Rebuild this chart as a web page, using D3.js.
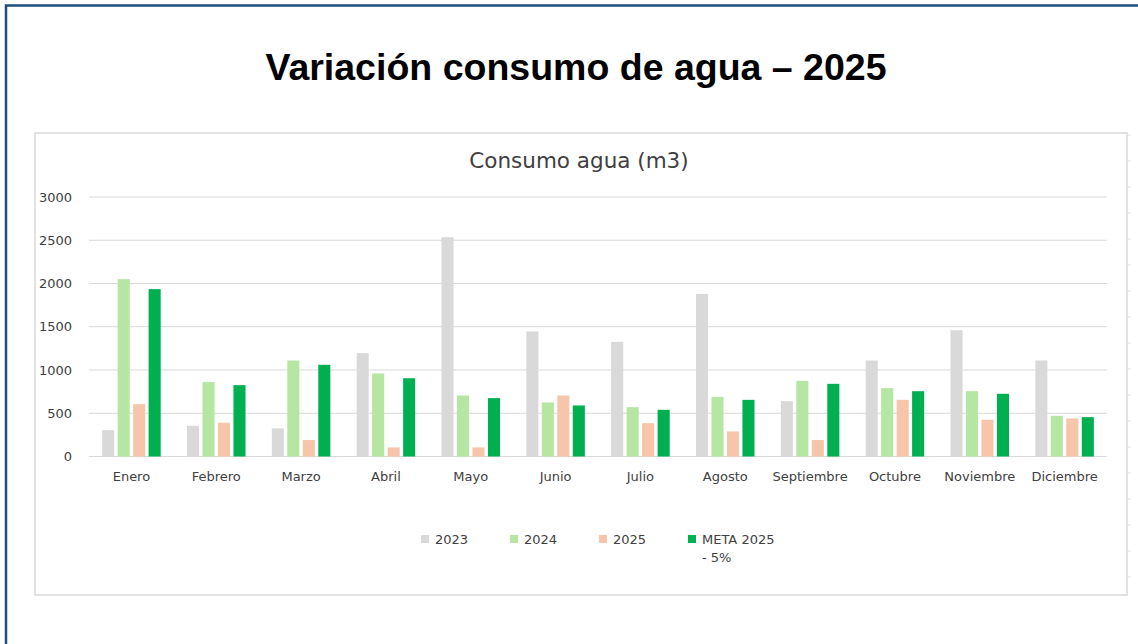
<!DOCTYPE html>
<html>
<head>
<meta charset="utf-8">
<script src="https://cdn.jsdelivr.net/npm/d3@7"></script>
<style>
  body { margin: 0; background: #fff; }
  svg { display: block; }
</style>
</head>
<body>
<div class="canvas"></div>
<script>
// data
const months = ['Enero', 'Febrero', 'Marzo', 'Abril', 'Mayo', 'Junio', 'Julio', 'Agosto', 'Septiembre', 'Octubre', 'Noviembre', 'Diciembre']
const series = ['2023', '2024', '2025', 'META 2025 - 5%']
const v2023 = [305, 355, 325, 1195, 2535, 1445, 1325, 1880, 640, 1110, 1460, 1110]
const v2024 = [2050, 860, 1110, 960, 705, 625, 570, 690, 875, 790, 755, 470]
const v2025 = [605, 390, 190, 105, 105, 705, 385, 290, 190, 655, 425, 440]
const vMeta = [1935, 825, 1060, 905, 675, 590, 540, 655, 840, 755, 725, 455]
const yTicks = [0, 500, 1000, 1500, 2000, 2500, 3000]
const colors = ['#d9d9d9', '#b5e6a2', '#f6c5aa', '#00b050']

const values = [v2023, v2024, v2025, vMeta]
const rows = months.map((m, i) => ({ month: m, vals: values.map(v => v[i]) }))

const W = 1138, H = 644
const box = { x: 35, y: 133, w: 1092, h: 462 }
const plot = { left: 89, right: 1107, top: 197, bottom: 456.5 }
const labelFont = 'DejaVu Sans, sans-serif'

const svg = d3.select('.canvas')
    .append('svg')
    .attr('width', W)
    .attr('height', H)

// outer frame (only top and left edges show)
svg.append('path')
    .attr('d', `M6,${H} V5.5 H${W}`)
    .attr('fill', 'none')
    .attr('stroke', '#1f4e7f')
    .attr('stroke-width', 2.5)

svg.append('text')
    .attr('x', 576)
    .attr('y', 80)
    .attr('text-anchor', 'middle')
    .attr('font-family', 'Liberation Sans, Arial, sans-serif')
    .attr('font-weight', 'bold')
    .attr('font-size', 37.5)
    .attr('fill', '#000')
    .text('Variación consumo de agua – 2025')

// chart box
svg.append('rect')
    .attr('x', box.x)
    .attr('y', box.y)
    .attr('width', box.w)
    .attr('height', box.h)
    .attr('fill', '#fff')
    .attr('stroke', '#d9d9d9')
    .attr('stroke-width', 1.5)

// little ticks on the right of the box
svg.append('g')
    .selectAll('line')
    .data(d3.range(box.y + 2, box.y + box.h - 10, 26))
    .join('line')
    .attr('x1', box.x + box.w)
    .attr('x2', box.x + box.w + 4)
    .attr('y1', d => d)
    .attr('y2', d => d)
    .attr('stroke', '#e3e3e3')
    .attr('stroke-width', 1)

svg.append('text')
    .attr('x', 579)
    .attr('y', 168)
    .attr('text-anchor', 'middle')
    .attr('font-family', labelFont)
    .attr('font-size', 21.5)
    .attr('fill', '#404040')
    .text('Consumo agua (m3)')

// scales
const x0 = d3.scaleBand()
    .domain(months)
    .range([plot.left, plot.right])
    .paddingInner(0.31)
    .paddingOuter(0.155)

const x1 = d3.scaleBand()
    .domain(series)
    .range([0, x0.bandwidth()])
    .paddingInner(0.22)

const y = d3.scaleLinear()
    .domain([0, 3000])
    .range([plot.bottom, plot.top])

// gridlines
svg.append('g')
    .selectAll('line')
    .data(yTicks)
    .join('line')
    .attr('x1', plot.left)
    .attr('x2', plot.right)
    .attr('y1', d => y(d))
    .attr('y2', d => y(d))
    .attr('stroke', '#d9d9d9')
    .attr('stroke-width', 1.2)

// y labels
svg.append('g')
    .selectAll('text')
    .data(yTicks)
    .join('text')
    .attr('x', 72)
    .attr('y', d => y(d) + 4.5)
    .attr('text-anchor', 'end')
    .attr('font-family', labelFont)
    .attr('font-size', 13)
    .attr('fill', '#404040')
    .text(d => d)

// bars
const groups = svg.append('g')
    .selectAll('g')
    .data(rows)
    .join('g')
    .attr('transform', d => `translate(${x0(d.month)},0)`)

groups.selectAll('rect')
    .data(d => d.vals.map((v, i) => ({ key: series[i], v, i })))
    .join('rect')
    .attr('x', d => x1(d.key))
    .attr('y', d => y(d.v))
    .attr('width', x1.bandwidth())
    .attr('height', d => y(0) - y(d.v))
    .attr('fill', d => colors[d.i])

// x labels
svg.append('g')
    .selectAll('text')
    .data(months)
    .join('text')
    .attr('x', d => x0(d) + x0.bandwidth() / 2)
    .attr('y', 481)
    .attr('text-anchor', 'middle')
    .attr('font-family', labelFont)
    .attr('font-size', 13)
    .attr('fill', '#404040')
    .text(d => d)

// legend
const legend = svg.append('g')
    .selectAll('g')
    .data(series)
    .join('g')
    .attr('transform', (d, i) => `translate(${421 + i * 89},539)`)

legend.append('rect')
    .attr('x', 0)
    .attr('y', -4)
    .attr('width', 8)
    .attr('height', 8)
    .attr('fill', (d, i) => colors[i])

legend.append('text')
    .attr('x', 14)
    .attr('y', 4.5)
    .attr('font-family', labelFont)
    .attr('font-size', 13)
    .attr('fill', '#404040')
    .each(function(d) {
        const parts = d === 'META 2025 - 5%' ? ['META 2025', '- 5%'] : [d]
        d3.select(this).selectAll('tspan')
            .data(parts)
            .join('tspan')
            .attr('x', 14)
            .attr('dy', (p, j) => j === 0 ? 0 : 18)
            .text(p => p)
    })
</script>
</body>
</html>
